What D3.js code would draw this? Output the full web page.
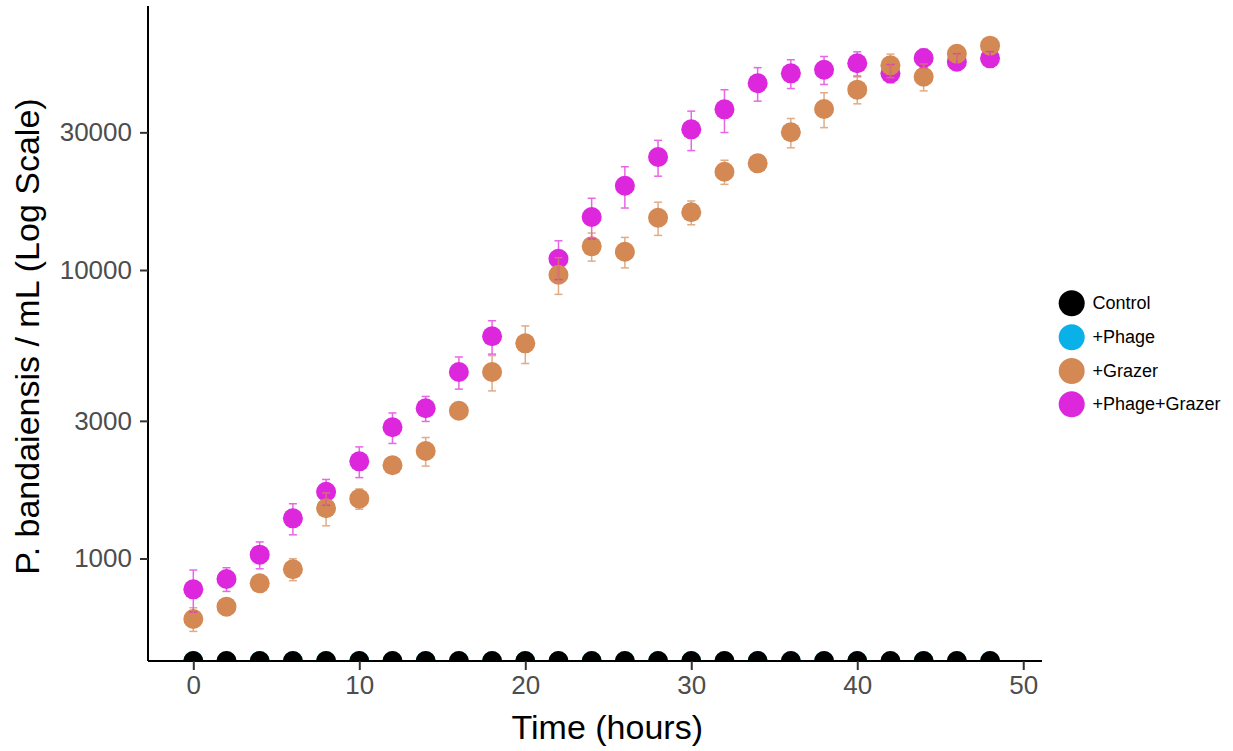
<!DOCTYPE html>
<html>
<head>
<meta charset="utf-8">
<script src="https://cdn.jsdelivr.net/npm/d3@7"></script>
<style>
  html, body { margin: 0; padding: 0; background: #fff; }
  svg { display: block; font-family: "Liberation Sans", Arial, sans-serif; }
</style>
</head>
<body>
<svg id="chart" width="1233" height="751"></svg>
<script>
// ---- data ----
const hours = [0,2,4,6,8,10,12,14,16,18,20,22,24,26,28,30,32,34,36,38,40,42,44,46,48];
const seriesNames = ["Control", "+Phage", "+Grazer", "+Phage+Grazer"];
const seriesColors = ["#000000", "#0AB0E8", "#D48954", "#DD27DD"];
// 0 = below detection (drawn at the panel edge, as -Inf on a log scale)
const controlMean = [0,0,0,0,0,0,0,0,0,0,0,0,0,0,0,0,0,0,0,0,0,0,0,0,0];
const phageMean   = [0,0,0,0,0,0,0,0,0,0,0,0,0,0,0,0,0,0,0,0,0,0,0,0,0];
const grazerMean  = [617,681,820,918,1493,1612,2104,2358,3253,4430,5570,9632,12082,11571,15181,15849,21913,23432,30013,36148,42170,51227,46774,56200,59930];
const grazerSE    = [58,20,20,80,195,130,100,268,150,620,830,1400,1350,1400,2000,1500,2100,500,3500,5000,4500,4800,5000,2500,2000];
const pgMean      = [782,849,1031,1378,1704,2172,2850,3316,4430,5891,null,10944,15265,19598,24643,30734,36058,44377,48061,49465,52058,48061,54300,52723,54175];
const pgSE        = [130,80,110,170,175,265,345,330,565,780,null,1680,2460,3200,3500,4800,6100,5900,5500,5500,5000,3500,4000,3500,3000];
const xTicks = [0,10,20,30,40,50];
const yTicks = [1000,3000,10000,30000];

// ---- layout ----
const panel = {left:148, right:1042, top:6, bottom:661};
const svg = d3.select("#chart");
const x = d3.scaleLinear().domain([-2.729, 51.13]).range([panel.left, panel.right]);
const y = d3.scaleLog().domain([Math.pow(10,2.6447), Math.pow(10,4.9151)]).range([panel.bottom, panel.top]);
const yPos = v => v > 0 ? y(v) : panel.bottom;

svg.append("defs").append("clipPath").attr("id","clip")
  .append("rect").attr("x",panel.left).attr("y",panel.top)
  .attr("width",panel.right-panel.left).attr("height",panel.bottom-panel.top);

const series = [
  {name:seriesNames[0], color:seriesColors[0], mean:controlMean, se:null},
  {name:seriesNames[1], color:seriesColors[1], mean:phageMean, se:null},
  {name:seriesNames[2], color:seriesColors[2], mean:grazerMean, se:grazerSE},
  {name:seriesNames[3], color:seriesColors[3], mean:pgMean, se:pgSE}
];

const plot = svg.append("g").attr("clip-path","url(#clip)");
const drawOrder = [3,2,1,0];
drawOrder.forEach(i => {
  const s = series[i];
  const pts = hours.map((h,k) => ({h, m:s.mean[k]})).filter(d => d.m !== null);
  plot.append("g").selectAll("circle").data(pts).join("circle")
    .attr("cx", d => x(d.h)).attr("cy", d => yPos(d.m)).attr("r", 10)
    .attr("fill", s.color);
});
// error bars
[3,2].forEach(i => {
  const s = series[i];
  const pts = hours.map((h,k) => ({h, m:s.mean[k], e:s.se[k]})).filter(d => d.m !== null);
  const g = plot.append("g").attr("stroke", s.color).attr("stroke-width",1.5).attr("opacity",0.7);
  g.selectAll("line.v").data(pts).join("line").attr("class","v")
    .attr("x1", d => x(d.h)).attr("x2", d => x(d.h))
    .attr("y1", d => y(d.m + d.e)).attr("y2", d => y(d.m - d.e));
  g.selectAll("line.t").data(pts).join("line").attr("class","t")
    .attr("x1", d => x(d.h)-4).attr("x2", d => x(d.h)+4)
    .attr("y1", d => y(d.m + d.e)).attr("y2", d => y(d.m + d.e));
  g.selectAll("line.b").data(pts).join("line").attr("class","b")
    .attr("x1", d => x(d.h)-4).attr("x2", d => x(d.h)+4)
    .attr("y1", d => y(d.m - d.e)).attr("y2", d => y(d.m - d.e));
});

// axes
const xAxis = svg.append("g").attr("transform",`translate(0,${panel.bottom})`)
  .call(d3.axisBottom(x).tickValues(xTicks).tickSize(9).tickPadding(6).tickFormat(d3.format("d")));
const yAxis = svg.append("g").attr("transform",`translate(${panel.left},0)`)
  .call(d3.axisLeft(y).tickValues(yTicks).tickSize(8).tickPadding(8).tickFormat(d3.format("d")));
[xAxis, yAxis].forEach(a => {
  a.select(".domain").attr("stroke","#000").attr("stroke-width",2);
  a.selectAll(".tick line").attr("stroke","#333").attr("stroke-width",2);
  a.selectAll(".tick text").attr("fill","#4D4D4D").style("font-size","26px")
    .style("font-family","'Liberation Sans', Arial, sans-serif");
});
xAxis.select(".domain").attr("d", `M${panel.left},0H${panel.right}`);
yAxis.select(".domain").attr("d", `M0,${panel.top}V${panel.bottom}`);

// titles
svg.append("text").attr("x", x(25) - 1).attr("y", 727)
  .attr("text-anchor","middle").attr("dominant-baseline","central")
  .style("font-size","34px").attr("fill","#000").text("Time (hours)");
svg.append("text").attr("transform", `translate(27,${(95+578)/2}) rotate(-90)`)
  .attr("text-anchor","middle").attr("dominant-baseline","central")
  .style("font-size","34px").attr("fill","#000").text("P. bandaiensis / mL (Log Scale)");

// legend
const legend = svg.append("g");
const legY = [303.3, 337.3, 371, 404.3];
series.forEach((s,i) => {
  legend.append("circle").attr("cx",1071.7).attr("cy",legY[i]).attr("r",13).attr("fill",s.color);
  legend.append("text").attr("x",1092.5).attr("y",legY[i]).attr("dominant-baseline","central")
    .style("font-size","18px").attr("fill","#000").text(s.name);
});
</script>
</body>
</html>
